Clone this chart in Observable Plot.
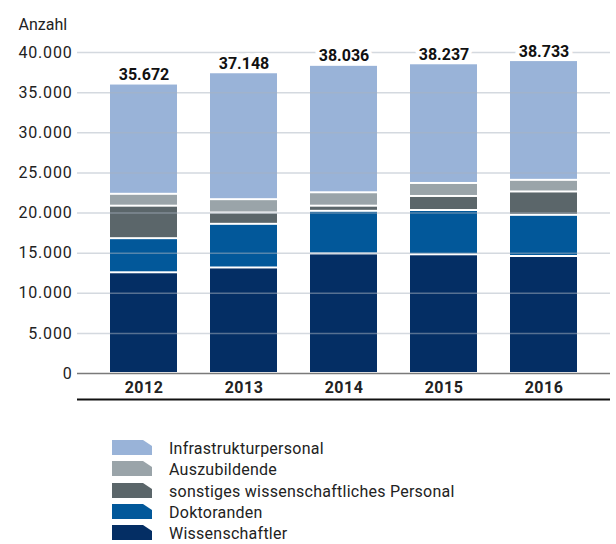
<!DOCTYPE html>
<html>
<head>
<meta charset="utf-8">
<script src="https://cdn.jsdelivr.net/npm/d3@7"></script>
<script src="https://cdn.jsdelivr.net/npm/@observablehq/plot@0.6"></script>
<style>
  html, body { margin: 0; padding: 0; background: white; }
  #wrap { position: relative; width: 616px; height: 544px; font-family: Roboto, sans-serif; color: #222; }
  #legend { position: absolute; left: 112px; top: 440px; }
  .row { position: relative; height: 21.25px; }
  .row svg { position: absolute; left: 0; top: 0; }
  .row span { position: absolute; left: 57px; top: -2px; font-size: 16px; line-height: 21px; letter-spacing: 0.25px; white-space: nowrap; }
  .yt text { letter-spacing: 0.8px; }
  .xt text { letter-spacing: 0.5px; }
</style>
</head>
<body>
<div id="wrap"><div id="chart"></div><div id="legend"></div></div>
<script>
const years = ["2012", "2013", "2014", "2015", "2016"];
const seriesNames = ["Wissenschaftler", "Doktoranden", "sonstiges wissenschaftliches Personal", "Auszubildende", "Infrastrukturpersonal"];
const seriesColors = ["#042e64", "#02589a", "#5b666a", "#9aa4a9", "#99b3d8"];
const wissenschaftler = [12550, 13150, 14900, 14790, 14580];
const doktoranden = [4250, 5440, 5310, 5520, 5130];
const sonstige = [4050, 1410, 640, 1750, 2910];
const auszubildende = [1480, 1660, 1670, 1620, 1450];
const infrastruktur = [13740, 15815, 15880, 14914, 14922];
const totals = [35672, 37148, 38036, 38237, 38733];
const yTicks = [0, 5000, 10000, 15000, 20000, 25000, 30000, 35000, 40000];

const values = [wissenschaftler, doktoranden, sonstige, auszubildende, infrastruktur];
const data = [];
years.forEach((yr, i) => {
  seriesNames.forEach((s, j) => data.push({year: yr, series: s, value: values[j][i]}));
});
const totalData = years.map((yr, i) => ({
  year: yr,
  total: totals[i],
  top: d3.sum(values, v => v[i])
}));

const fmt = d3.formatLocale({decimal: ",", thousands: ".", grouping: [3], currency: ["", ""]}).format(",d");

const chart = Plot.plot({
  width: 616,
  height: 405,
  marginLeft: 77,
  marginRight: 6,
  marginTop: 52,
  marginBottom: 32,
  style: {fontFamily: "Roboto, sans-serif", fontSize: "16px", color: "#222", background: "white"},
  x: {domain: years, paddingInner: 0.335, paddingOuter: 0.31, label: null},
  y: {domain: [0, 40000], label: null},
  color: {domain: seriesNames, range: seriesColors},
  marks: [
    Plot.barY(data, {x: "year", y: "value", fill: "series", insetTop: 1, insetBottom: 1}),
    Plot.gridY(yTicks.slice(1), {stroke: "#a9b4bf", strokeOpacity: 0.5, strokeWidth: 1.5}),
    Plot.ruleY([0], {stroke: "#7a7a7a", strokeWidth: 1.5}),
    Plot.ruleY([0], {stroke: "#111", strokeWidth: 2, dy: 26}),
    Plot.axisY(yTicks, {tickSize: 0, tickPadding: 5, tickFormat: fmt, fontSize: 16, label: null, className: "yt"}),
    Plot.axisX({tickSize: 0, tickPadding: 8, fontWeight: "bold", fontSize: 16, label: null, className: "xt"}),
    Plot.text(totalData, {x: "year", y: "top", text: d => fmt(d.total), lineAnchor: "bottom", dy: -4, fontWeight: "bold", fontSize: 16, fill: "#111", stroke: "white", strokeWidth: 8}),
    Plot.text(["Anzahl"], {frameAnchor: "top-left", textAnchor: "start", dx: -59, dy: -34, fontSize: 16, fill: "#222"})
  ]
});
document.getElementById("chart").appendChild(chart);

const legend = document.getElementById("legend");
for (let j = seriesNames.length - 1; j >= 0; j--) {
  const row = document.createElement("div");
  row.className = "row";
  row.innerHTML = `<svg width="40" height="15"><polygon points="0,0 31,0 40,6 40,15 0,15" fill="${seriesColors[j]}"/></svg><span>${seriesNames[j]}</span>`;
  legend.appendChild(row);
}
</script>
</body>
</html>
